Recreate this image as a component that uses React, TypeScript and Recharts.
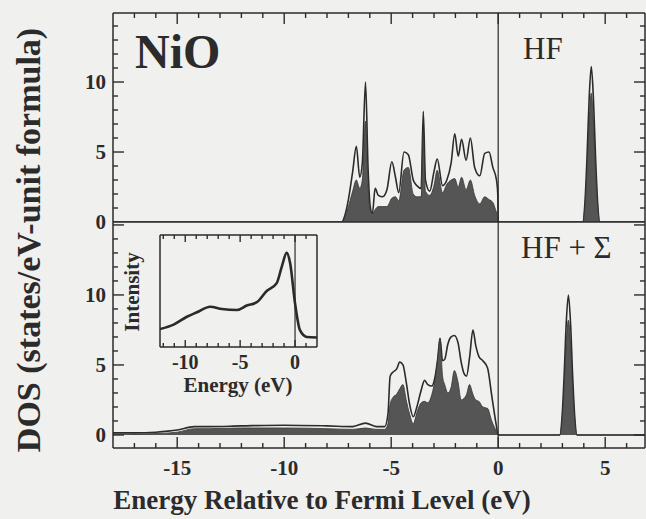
import React from "react";
import { ComposedChart, Area, Line, XAxis, YAxis, ReferenceLine } from "recharts";

const W = 646;
const H = 519;
const PAPER = "#f0f0ee";
const INK = "#2b2b2b";
const SHADE = "#555555";
const SERIF = "'Liberation Serif', 'Times New Roman', serif";

// HF panel: total DOS and Ni-d projection
const hfEnergy = [
  -18, -7.3, -7.2, -7.0, -6.8, -6.63, -6.47, -6.35, -6.2, -6.08, -5.98, -5.88, -5.75, -5.6,
  -5.4, -5.2, -4.97, -4.8, -4.65, -4.4, -4.2, -3.97, -3.8, -3.6, -3.5, -3.4, -3.2, -3.0,
  -2.85, -2.6, -2.4, -2.2, -2.03, -1.87, -1.71, -1.5, -1.3, -1.1, -0.86, -0.63, -0.43,
  -0.25, -0.08, -0.02, 0, 3.95, 4.05, 4.15, 4.25, 4.35, 4.45, 4.55, 4.65, 4.75, 6.86,
];
const hfTotal = [
  0, 0, 0.3, 1.6, 3.6, 5.4, 3.2, 4.2, 10.0, 3.8, 1.1, 0.6, 2.4, 1.9,
  1.8, 2.3, 4.3, 3.2, 2.1, 5.0, 4.8, 3.0, 2.6, 2.4, 7.9, 3.0, 2.2, 3.6,
  4.5, 2.6, 3.0, 4.2, 6.3, 4.7, 5.9, 4.4, 6.0, 3.9, 3.3, 4.9, 5.0,
  3.9, 3.0, 2.0, 0, 0, 1.3, 4.6, 8.8, 11.1, 8.8, 4.6, 1.3, 0, 0,
];
const hfPartial = [
  0, 0, 0.2, 1.1, 2.2, 3.0, 2.4, 3.0, 7.2, 2.6, 0.85, 0.6, 0.9, 1.1,
  1.1, 1.1, 1.7, 1.8, 1.5, 3.7, 3.9, 2.0, 1.8, 1.8, 6.5, 2.2, 1.9, 2.6,
  3.7, 2.1, 2.7, 3.0, 3.1, 2.5, 3.2, 2.3, 3.0, 1.9, 1.3, 1.8, 1.6,
  1.4, 0.7, 0.5, 0, 0, 1.1, 3.8, 7.2, 9.2, 7.2, 3.8, 1.1, 0, 0,
];

// HF + Sigma panel
const sigEnergy = [
  -18, -17, -16, -15, -14.2, -13.5, -12, -10, -8, -6.8, -6.2, -5.7, -5.3, -5.15, -5.05,
  -4.91, -4.75, -4.6, -4.45, -4.3, -4.14, -3.97, -3.8, -3.6, -3.44, -3.29, -3.1, -2.97,
  -2.82, -2.72, -2.6, -2.5, -2.35, -2.2, -2.05, -1.88, -1.73, -1.6, -1.48, -1.34, -1.18,
  -1.05, -0.9, -0.72, -0.5, -0.3, -0.1, 0, 2.88, 2.98, 3.08, 3.18, 3.28, 3.38, 3.48,
  3.58, 3.68, 6.86,
];
const sigTotal = [
  0.15, 0.15, 0.2, 0.35, 0.6, 0.6, 0.65, 0.7, 0.65, 0.6, 0.85, 0.6, 0.6, 1.5, 4.2,
  4.5, 4.7, 5.2, 5.0, 3.8, 2.2, 1.3, 2.0, 3.2, 3.9, 3.6, 3.5, 4.0,
  5.5, 6.9, 5.3, 5.4, 6.5, 7.0, 7.1, 6.6, 5.2, 4.4, 4.2, 5.5, 7.5,
  6.4, 5.6, 5.3, 4.8, 2.8, 0.8, 0, 0, 1.2, 4.2, 8.0, 10.0, 8.0, 4.2,
  1.2, 0, 0,
];
const sigPartial = [
  0.05, 0.07, 0.1, 0.2, 0.45, 0.45, 0.5, 0.5, 0.45, 0.4, 0.5, 0.4, 0.4, 0.8, 2.2,
  2.7, 2.9, 3.3, 3.6, 2.5, 1.5, 0.8, 1.6, 2.3, 2.4, 2.3, 2.9, 3.8,
  5.5, 6.9, 4.2, 3.6, 3.0, 3.4, 4.6, 3.8, 2.5, 2.6, 2.9, 3.6, 2.9,
  2.5, 2.4, 2.0, 1.9, 1.0, 0.3, 0, 0, 1.0, 3.4, 6.6, 8.2, 6.6, 3.4,
  1.0, 0, 0,
];

// photoemission spectrum in the inset
const peEnergy = [-12.3, -11.06, -9.85, -8.94, -7.73, -6.67, -5.3, -4.4, -3.48, -2.58, -1.67, -1.2, -0.76, -0.45, 0, 0.45, 1.06, 2.0];
const peIntensity = [0.16, 0.2, 0.27, 0.31, 0.36, 0.34, 0.33, 0.37, 0.4, 0.5, 0.57, 0.72, 0.84, 0.75, 0.39, 0.15, 0.09, 0.085];

const energyTicks = [-17, -16, -15, -14, -13, -12, -11, -10, -9, -8, -7, -6, -5, -4, -3, -2, -1, 0, 1, 2, 3, 4, 5, 6];
const energyLabels = [-15, -10, -5, 0, 5];
const hfDosTicks = [1, 2, 3, 4, 5, 6, 7, 8, 9, 10, 11, 12, 13, 14];
const sigDosTicks = [0, 1, 2, 3, 4, 5, 6, 7, 8, 9, 10, 11, 12, 13, 14, 15];
const dosLabels = [0, 5, 10];
const peTicks = [-12, -11, -10, -9, -8, -7, -6, -5, -4, -3, -2, -1, 0, 1];
const peLabels = [-10, -5, 0];

const toRows = (e: number[], t: number[], p: number[]) => e.map((x, i) => ({ e: x, total: t[i], part: p[i] }));
const hfRows = toRows(hfEnergy, hfTotal, hfPartial);
const sigRows = toRows(sigEnergy, sigTotal, sigPartial);
const peRows = peEnergy.map((x, i) => ({ e: x, v: peIntensity[i] }));

const layer = { position: "absolute", left: 0, top: 0 } as const;
const frame = { stroke: INK, strokeWidth: 1.5 };
const HAIR = 0.001; // an axis of zero size is skipped entirely

const E_DOMAIN = [-18, 6.86];
const HF_DOMAIN = [0, 14.93];
const SIG_DOMAIN = [-0.93, 15.21];
const PE_DOMAIN = [-12.3, 2.0];

// plot rectangles of the three charts (left, top, right, bottom)
const HF_BOX = { l: 113, t: 13, r: 645, b: 222 };
const SIG_BOX = { l: 113, t: 222, r: 645, b: 448 };
const PE_BOX = { l: 160, t: 235, r: 317, b: 347 };

const lerp = (v: number, d: number[], p0: number, p1: number) => p0 + ((v - d[0]) / (d[1] - d[0])) * (p1 - p0);
const isMajor = (v: number) => v % 5 === 0;

// inward tick marks along the frames
function FrameTicks({ box, xDomain, yDomain, xTicks, yTicks, top, bottom, sides, long, short }: any) {
  const marks: React.ReactNode[] = [];
  xTicks.forEach((v: number) => {
    const x = lerp(v, xDomain, box.l, box.r);
    const len = isMajor(v) ? long : short;
    if (top) marks.push(<line key={"t" + v} x1={x} y1={box.t} x2={x} y2={box.t + len} />);
    if (bottom) marks.push(<line key={"b" + v} x1={x} y1={box.b} x2={x} y2={box.b - len} />);
  });
  if (sides) {
    yTicks.forEach((v: number) => {
      const y = lerp(v, yDomain, box.b, box.t);
      const len = isMajor(v) ? long : short;
      marks.push(<line key={"l" + v} x1={box.l} y1={y} x2={box.l + len} y2={y} />);
      marks.push(<line key={"r" + v} x1={box.r} y1={y} x2={box.r - len} y2={y} />);
    });
  }
  return (
    <g stroke={INK} strokeWidth={1.4}>
      {marks}
    </g>
  );
}

const labelFont = { fontFamily: SERIF, fontWeight: 700, fill: INK } as const;

function xLabel(fontSize: number, dy: number) {
  return (props: any) => (
    <text x={Number(props.x)} y={Number(props.y) + dy} textAnchor="middle" fontSize={fontSize} {...labelFont}>
      {props.payload.value}
    </text>
  );
}

function yLabel(props: any) {
  return (
    <text x={Number(props.x) - 7} y={Number(props.y) + 7} textAnchor="end" fontSize={21} {...labelFont}>
      {props.payload.value}
    </text>
  );
}

export default function App() {
  return (
    <div style={{ ...layer, width: W, height: H, background: PAPER, overflow: "hidden" }}>
      {/* HF panel */}
      <div style={layer}>
        <ComposedChart width={W} height={H} data={hfRows} margin={{ top: HF_BOX.t, right: W - HF_BOX.r, bottom: H - HF_BOX.b, left: HF_BOX.l }}>
          <XAxis xAxisId="e" dataKey="e" type="number" orientation="top" height={HAIR} domain={E_DOMAIN} allowDataOverflow tick={false} tickLine={false} axisLine={frame} />
          <YAxis yAxisId="dos" type="number" width={HAIR} domain={HF_DOMAIN} allowDataOverflow ticks={dosLabels} interval={0} tickSize={0} tickMargin={0} tickLine={false} axisLine={frame} tick={yLabel} />
          <YAxis yAxisId="dosR" orientation="right" type="number" width={HAIR} domain={HF_DOMAIN} allowDataOverflow tick={false} tickLine={false} axisLine={frame} />
          <Area xAxisId="e" yAxisId="dos" type="monotone" dataKey="total" baseValue={0} stroke={INK} strokeWidth={1.6} fill={PAPER} fillOpacity={1} dot={false} activeDot={false} isAnimationActive={false} />
          <Area xAxisId="e" yAxisId="dos" type="monotone" dataKey="part" baseValue={0} stroke="#333" strokeWidth={0.8} fill={SHADE} fillOpacity={1} dot={false} activeDot={false} isAnimationActive={false} />
          <ReferenceLine xAxisId="e" yAxisId="dos" x={0} stroke={INK} strokeWidth={1.2} />
          <ReferenceLine xAxisId="e" yAxisId="dos" y={0} stroke={INK} strokeWidth={1.5} />
        </ComposedChart>
      </div>

      {/* HF + Sigma panel */}
      <div style={layer}>
        <ComposedChart width={W} height={H} data={sigRows} margin={{ top: SIG_BOX.t, right: W - SIG_BOX.r, bottom: H - SIG_BOX.b, left: SIG_BOX.l }}>
          <XAxis xAxisId="e" dataKey="e" type="number" height={HAIR} domain={E_DOMAIN} allowDataOverflow ticks={energyLabels} interval={0} tickSize={0} tickMargin={0} tickLine={false} axisLine={frame} tick={xLabel(21, 27)} />
          <YAxis yAxisId="dos" type="number" width={HAIR} domain={SIG_DOMAIN} allowDataOverflow ticks={dosLabels} interval={0} tickSize={0} tickMargin={0} tickLine={false} axisLine={frame} tick={yLabel} />
          <YAxis yAxisId="dosR" orientation="right" type="number" width={HAIR} domain={SIG_DOMAIN} allowDataOverflow tick={false} tickLine={false} axisLine={frame} />
          <Area xAxisId="e" yAxisId="dos" type="monotone" dataKey="total" baseValue={0} stroke={INK} strokeWidth={1.6} fill={PAPER} fillOpacity={1} dot={false} activeDot={false} isAnimationActive={false} />
          <Area xAxisId="e" yAxisId="dos" type="monotone" dataKey="part" baseValue={0} stroke="#333" strokeWidth={0.8} fill={SHADE} fillOpacity={1} dot={false} activeDot={false} isAnimationActive={false} />
          <ReferenceLine xAxisId="e" yAxisId="dos" x={0} stroke={INK} strokeWidth={1.2} />
        </ComposedChart>
      </div>

      {/* photoemission inset */}
      <div style={layer}>
        <ComposedChart width={W} height={H} data={peRows} margin={{ top: PE_BOX.t, right: W - PE_BOX.r, bottom: H - PE_BOX.b, left: PE_BOX.l }}>
          <XAxis xAxisId="pe" dataKey="e" type="number" height={HAIR} domain={PE_DOMAIN} allowDataOverflow ticks={peLabels} interval={0} tickSize={0} tickMargin={0} tickLine={false} axisLine={frame} tick={xLabel(20, 22)} />
          <XAxis xAxisId="peT" dataKey="e" type="number" orientation="top" height={HAIR} domain={PE_DOMAIN} allowDataOverflow tick={false} tickLine={false} axisLine={frame} />
          <YAxis yAxisId="int" type="number" width={HAIR} domain={[0, 1]} allowDataOverflow tick={false} tickLine={false} axisLine={frame} />
          <YAxis yAxisId="intR" orientation="right" type="number" width={HAIR} domain={[0, 1]} allowDataOverflow tick={false} tickLine={false} axisLine={frame} />
          <Line xAxisId="pe" yAxisId="int" type="monotone" dataKey="v" stroke="#2a2a2a" strokeWidth={2.6} dot={false} activeDot={false} isAnimationActive={false} />
          <ReferenceLine xAxisId="pe" yAxisId="int" x={0} stroke={INK} strokeWidth={1.2} />
        </ComposedChart>
      </div>

      <svg style={layer} width={W} height={H}>
        <FrameTicks box={HF_BOX} xDomain={E_DOMAIN} yDomain={HF_DOMAIN} xTicks={energyTicks} yTicks={hfDosTicks} top sides long={11} short={5} />
        <FrameTicks box={SIG_BOX} xDomain={E_DOMAIN} yDomain={SIG_DOMAIN} xTicks={energyTicks} yTicks={sigDosTicks} bottom sides long={11} short={5} />
        <FrameTicks box={PE_BOX} xDomain={PE_DOMAIN} yDomain={[0, 1]} xTicks={peTicks} yTicks={[]} top bottom long={7} short={4} />
        <g fontFamily={SERIF} fill={INK}>
          <text x={135} y={68} fontSize={48} fontWeight={700}>NiO</text>
          <text x={523} y={59} fontSize={31}>HF</text>
          <text x={521} y={258} fontSize={31}>HF + Σ</text>
          <text transform="translate(40,240) rotate(-90)" textAnchor="middle" fontSize={34} fontWeight={700}>
            DOS (states/eV-unit formula)
          </text>
          <text x={322} y={509} textAnchor="middle" fontSize={27} fontWeight={700}>
            Energy Relative to Fermi Level (eV)
          </text>
          <text transform="translate(139,292) rotate(-90)" textAnchor="middle" fontSize={21} fontWeight={700}>
            Intensity
          </text>
          <text x={238} y={392} textAnchor="middle" fontSize={21} fontWeight={700}>
            Energy (eV)
          </text>
        </g>
      </svg>
    </div>
  );
}
